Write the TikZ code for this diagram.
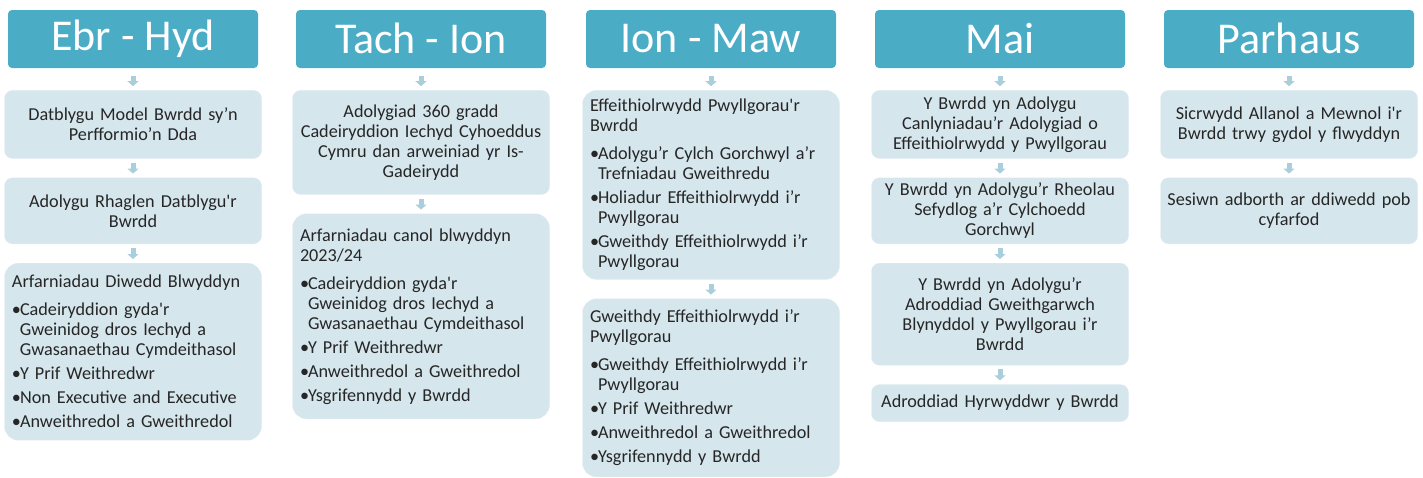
\documentclass[tikz,border=0pt]{standalone}
\usepackage{fontspec}
\setmainfont{Carlito}
\usetikzlibrary{positioning,arrows.meta}

\definecolor{penlliw}{HTML}{4BACC6}
\definecolor{blwchlliw}{HTML}{D5E6EC}
\definecolor{saethlliw}{HTML}{A9CFDC}
\newcommand{\pwynt}[1]{\par\vspace{4pt}\hangindent=8pt\hangafter=1\noindent\makebox[8pt][l]{\textbullet}#1\par}
\hyphenpenalty=10000

\begin{document}
\begin{tikzpicture}[
  x=1pt, y=1pt,
  node distance=19pt,
  pen/.style={fill=penlliw, rounded corners=4pt, text=white, font=\fontsize{44}{48}\selectfont,
              minimum width=250pt, minimum height=58pt, inner sep=0pt},
  blwch/.style={fill=blwchlliw, draw=blwchlliw!70!white, rounded corners=8pt, text=black!85,
                font=\fontsize{18.2}{20}\selectfont, text width=249pt, align=center,
                minimum height=#1, inner xsep=4pt, inner ysep=4pt},
  rhestr/.style={blwch=#1, align=left, rounded corners=14pt, text width=242pt, inner xsep=7.5pt},
  saeth/.style={-{Triangle[width=11pt,length=5pt]}, line width=5pt, saethlliw,
                shorten <=4pt, shorten >=4pt},
]
\useasboundingbox (0,0) rectangle (1423,-477);

% ---- Penawdau
\node[pen] (ebr) at (133,-39) {\raisebox{2pt}{Ebr - Hyd}};
\node[pen] (tach) at (421,-39) {\raisebox{2pt}{Tach - Ion}};
\node[pen] (ion) at (711,-39) {\raisebox{2pt}{Ion - Maw}};
\node[pen] (mai) at (1000,-39) {\raisebox{2pt}{Mai}};
\node[pen] (parh) at (1289,-39) {\raisebox{2pt}{Parhaus}};

% ---- Ebr - Hyd
\node[blwch=68pt, below=22pt of ebr] (ebrA) {Datblygu Model Bwrdd sy’n\\ Perfformio’n Dda};
\node[blwch=66pt, below=of ebrA] (ebrB) {Adolygu Rhaglen Datblygu\textquotesingle r\\ Bwrdd};
\node[rhestr=177pt, below=of ebrB] (ebrC) {Arfarniadau Diwedd Blwyddyn\par\vspace{4pt}
  \pwynt{Cadeiryddion gyda\textquotesingle r\break Gweinidog dros Iechyd a\break Gwasanaethau Cymdeithasol}
  \pwynt{Y Prif Weithredwr}
  \pwynt{Non Executive and Executive}
  \pwynt{Anweithredol a Gweithredol}};

% ---- Tach - Ion
\node[blwch=104pt, below=22pt of tach] (tachA) {Adolygiad 360 gradd\\ Cadeiryddion Iechyd Cyhoeddus\\ Cymru dan arweiniad yr Is-\\ Gadeirydd};
\node[rhestr=205pt, below=of tachA] (tachB) {Arfarniadau canol blwyddyn\break 2023/24\par\vspace{4pt}
  \pwynt{Cadeiryddion gyda\textquotesingle r\break Gweinidog dros Iechyd a\break Gwasanaethau Cymdeithasol}
  \pwynt{Y Prif Weithredwr}
  \pwynt{Anweithredol a Gweithredol}
  \pwynt{Ysgrifennydd y Bwrdd}};

% ---- Ion - Maw
\node[rhestr=189pt, below=22pt of ion] (ionA) {Effeithiolrwydd Pwyllgorau\textquotesingle r\break Bwrdd\par\vspace{4pt}
  \pwynt{Adolygu’r Cylch Gorchwyl a’r\break Trefniadau Gweithredu}
  \pwynt{Holiadur Effeithiolrwydd i’r\break Pwyllgorau}
  \pwynt{Gweithdy Effeithiolrwydd i’r\break Pwyllgorau}};
\node[rhestr=178pt, below=of ionA] (ionB) {Gweithdy Effeithiolrwydd i’r\break Pwyllgorau\par\vspace{4pt}
  \pwynt{Gweithdy Effeithiolrwydd i’r\break Pwyllgorau}
  \pwynt{Y Prif Weithredwr}
  \pwynt{Anweithredol a Gweithredol}
  \pwynt{Ysgrifennydd y Bwrdd}};

% ---- Mai
\node[blwch=68pt, below=22pt of mai] (maiA) {Y Bwrdd yn Adolygu\\ Canlyniadau’r Adolygiad o\\ Effeithiolrwydd y Pwyllgorau};
\node[blwch=66pt, below=of maiA] (maiB) {Y Bwrdd yn Adolygu’r Rheolau\\ Sefydlog a’r Cylchoedd\\ Gorchwyl};
\node[blwch=102pt, below=of maiB] (maiC) {Y Bwrdd yn Adolygu’r\\ Adroddiad Gweithgarwch\\ Blynyddol y Pwyllgorau i’r\\ Bwrdd};
\node[blwch=37pt, below=of maiC] (maiD) {Adroddiad Hyrwyddwr y Bwrdd};

% ---- Parhaus
\node[blwch=68pt, below=22pt of parh] (parhA) {Sicrwydd Allanol a Mewnol i\textquotesingle r\\ Bwrdd trwy gydol y flwyddyn};
\node[blwch=66pt, below=of parhA] (parhB) {Sesiwn adborth ar ddiwedd pob\\ cyfarfod};

% ---- Saethau
\foreach \o/\i in {ebr/ebrA, tach/tachA, ion/ionA, mai/maiA, parh/parhA}
  \draw[saeth, shorten <=8pt] (\o) -- (\i);
\foreach \o/\i in {ebrA/ebrB, ebrB/ebrC, tachA/tachB, ionA/ionB, maiA/maiB, maiB/maiC, maiC/maiD, parhA/parhB}
  \draw[saeth] (\o) -- (\i);
\end{tikzpicture}
\end{document}
